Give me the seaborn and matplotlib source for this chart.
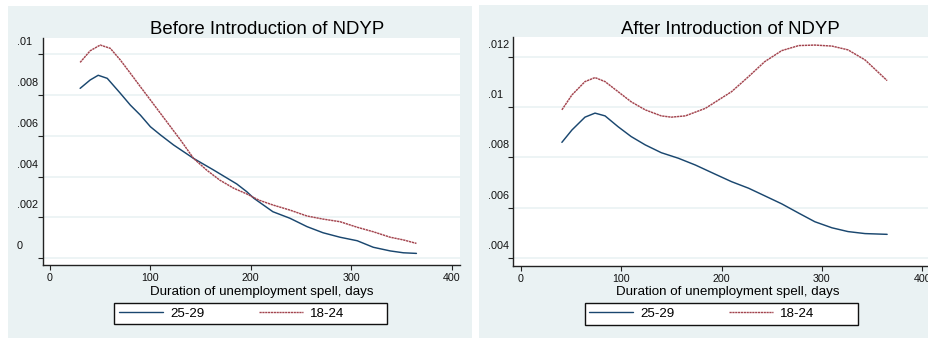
import matplotlib
matplotlib.use('Agg')
import pandas as pd
import matplotlib.pyplot as plt
import matplotlib.transforms as mtransforms
from matplotlib.patches import Rectangle
import seaborn as sns

# values (kernel density of spell length)
groups = ['25-29', '18-24']
titles = ['Before Introduction of NDYP', 'After Introduction of NDYP']

days_before_old = [30, 40, 48, 57, 70, 80, 90, 100, 110, 123, 143, 163, 186, 196, 203,
                   222, 239, 256, 272, 289, 306, 322, 339, 352, 365]
dens_before_old = [.00832, .00873, .00896, .00881, .00808, .0075, .00701, .00644, .00604,
                   .00555, .00489, .00432, .00364, .00326, .00294, .00228, .00196, .00155,
                   .00125, .00103, .00086, .00054, .00036, .00027, .00024]

days_before_young = [30, 40, 50, 60, 70, 80, 90, 100, 113, 130, 143, 156, 169, 183, 196,
                     208, 222, 239, 256, 272, 289, 306, 322, 339, 352, 365]
dens_before_young = [.00959, .01016, .01044, .01028, .00971, .00906, .0084, .00775, .0069,
                     .00579, .00489, .00432, .00383, .00343, .00315, .00285, .00261, .00236,
                     .00207, .00192, .00179, .00152, .0013, .00103, .0009, .00073]

days_after_old = [41, 51, 64, 74, 84, 97, 110, 124, 140, 157, 174, 193, 210, 227, 243,
                  260, 277, 293, 310, 326, 343, 365]
dens_after_old = [.0086, .00909, .0096, .00976, .00965, .00922, .00883, .0085, .00819,
                  .00797, .0077, .00735, .00704, .00678, .00648, .00616, .00579, .00545,
                  .00521, .00506, .00498, .00495]

days_after_young = [41, 51, 64, 74, 84, 97, 110, 124, 140, 150, 164, 184, 193, 210, 227,
                    243, 260, 277, 293, 310, 326, 343, 365]
dens_after_young = [.00989, .01048, .01101, .01117, .01101, .01061, .01021, .00989, .00965,
                    .0096, .00965, .00995, .01018, .01061, .01121, .0118, .01224, .01244,
                    .01246, .01242, .01227, .01187, .01105]

xticks = [0, 100, 200, 300, 400]
yticks_before = [0, .002, .004, .006, .008, .01]
ylabels_before = ['0', '.002', '.004', '.006', '.008', '.01']
yticks_after = [.004, .006, .008, .01, .012]
ylabels_after = ['.004', '.006', '.008', '.01', '.012']


def make_frame(d_old, v_old, d_young, v_young):
    a = pd.DataFrame({'days': d_old, 'density': v_old, 'group': groups[0]})
    b = pd.DataFrame({'days': d_young, 'density': v_young, 'group': groups[1]})
    return pd.concat([a, b], ignore_index=True)


before = make_frame(days_before_old, dens_before_old, days_before_young, dens_before_young)
after = make_frame(days_after_old, dens_after_old, days_after_young, dens_after_young)

sns.set_style('white')
plt.rcParams['font.family'] = ['Liberation Sans', 'DejaVu Sans']
plt.rcParams['text.color'] = 'black'

W, H = 929, 338
bg = '#EAF2F3'
palette = {'25-29': '#1A476F', '18-24': '#A3444E'}
dashes = {'25-29': '', '18-24': (1.6, 0.45)}

fig = plt.figure(figsize=(W / 100, H / 100), dpi=100, facecolor='white')


def fx(px):
    return px / W


def fy(py):
    return 1 - py / H


# panel backgrounds
fig.patches.append(Rectangle((fx(8), fy(337.5)), fx(471.5 - 8), (337.5 - 6) / H,
                             transform=fig.transFigure, facecolor=bg, edgecolor='none', zorder=-3))
fig.patches.append(Rectangle((fx(479.3), fy(338)), fx(929 - 479.3), (338 - 5) / H,
                             transform=fig.transFigure, facecolor=bg, edgecolor='none', zorder=-3))

panels = [
    dict(df=before, rect=(43.3, 38.3, 460, 265), xlim=(-6.7, 408.4), ylim=(-0.000328, 0.01077),
         yt=yticks_before, yl=ylabels_before, pad=15.3, title_x=267.5, xlab_x=262,
         leg=(114.3, 303.3, 386.7, 324.3)),
    dict(df=after, rect=(513.3, 37, 929, 266), xlim=(-7.4, 406.7), ylim=(0.003694, 0.01278),
         yt=yticks_after, yl=ylabels_after, pad=14.4, title_x=730.7, xlab_x=728,
         leg=(584.7, 303, 857.7, 324.7)),
]

for i, p in enumerate(panels):
    x0, y0, x1, y1 = p['rect']
    ax = fig.add_axes([fx(x0), fy(y1), fx(x1 - x0), (y1 - y0) / H])
    ax.set_facecolor('white')
    sns.lineplot(data=p['df'], x='days', y='density', hue='group', style='group',
                 hue_order=groups, style_order=groups, palette=palette, dashes=dashes,
                 linewidth=1.05, ax=ax)
    ax.set_xlim(*p['xlim'])
    ax.set_ylim(*p['ylim'])
    ax.set_xticks(xticks)
    ax.set_yticks(p['yt'])
    ax.set_yticklabels(p['yl'])
    ax.set_xlabel('')
    ax.set_ylabel('')
    for y in p['yt']:
        ax.axhline(y, color=bg, lw=1.2, zorder=0)
    for s in ['top', 'right']:
        ax.spines[s].set_visible(False)
    for s in ['left', 'bottom']:
        ax.spines[s].set_color('#222222')
        ax.spines[s].set_linewidth(1.0)
    ax.tick_params(axis='x', bottom=True, direction='out', length=3.6, width=0.8,
                   color='#222222', labelsize=7.7, pad=2.5, labelcolor='#111111')
    ax.tick_params(axis='y', left=True, direction='out', length=3.6, width=0.8,
                   color='#222222', labelsize=7.8, pad=p['pad'], labelcolor='#111111')
    offset = mtransforms.ScaledTranslation(0, 0.13, fig.dpi_scale_trans)
    for lab in ax.get_yticklabels():
        lab.set_horizontalalignment('left')
        lab.set_transform(lab.get_transform() + offset)

    fig.text(fx(p['title_x']), fy(29), titles[i], ha='center', va='center', fontsize=13.4,
             color='black')
    fig.text(fx(p['xlab_x']), fy(292), 'Duration of unemployment spell, days',
             ha='center', va='center', fontsize=9.6, color='black')

    lx0, ly0, lx1, ly1 = p['leg']
    fig.patches.append(Rectangle((fx(lx0), fy(ly1)), fx(lx1 - lx0), (ly1 - ly0) / H,
                                 transform=fig.transFigure, facecolor='white',
                                 edgecolor='#111111', linewidth=1.0, zorder=-1))
    sns.move_legend(ax, 'center left', bbox_to_anchor=(fx(lx0 + 4.7), fy((ly0 + ly1) / 2)),
                    bbox_transform=fig.transFigure, ncol=2, frameon=False, title=None,
                    fontsize=9.6, handlelength=3.3, handletextpad=0.53, columnspacing=4.1,
                    borderpad=0, borderaxespad=0)
    for line in ax.get_legend().get_lines():
        line.set_linewidth(1.0)
    for t in ax.get_legend().get_texts():
        t.set_color('black')

fig.savefig('out.png', dpi=100, facecolor='white')
